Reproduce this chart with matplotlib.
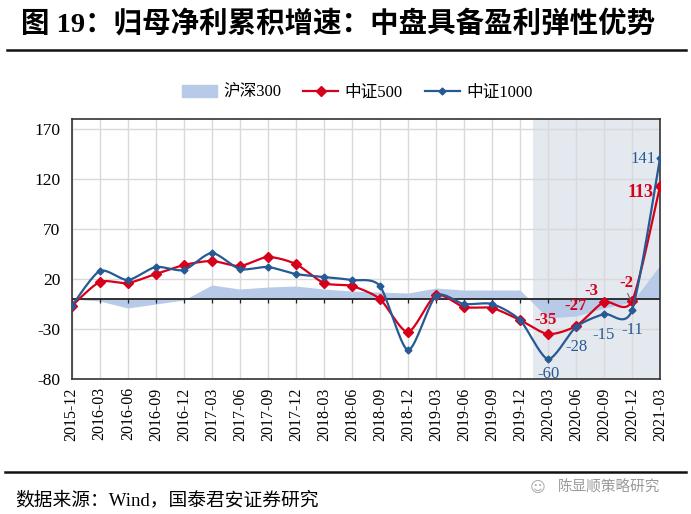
import numpy as np
import matplotlib
matplotlib.use("Agg")
import matplotlib.pyplot as plt
from matplotlib.patches import Patch
from matplotlib.lines import Line2D

plt.rcParams['font.family'] = ['Liberation Serif', 'Noto Sans CJK SC']
plt.rcParams['axes.unicode_minus'] = False

# data
dates = ['2015-12', '2016-03', '2016-06', '2016-09', '2016-12', '2017-03', '2017-06',
         '2017-09', '2017-12', '2018-03', '2018-06', '2018-09', '2018-12', '2019-03',
         '2019-06', '2019-09', '2019-12', '2020-03', '2020-06', '2020-09', '2020-12',
         '2021-03']
hs300 = [0, -2, -9, -5, -1, 14, 10, 12, 13, 10, 8, 7, 6, 11, 9, 9, 9, -19, -17, -9, -3, 34]
zz500 = [-7, 17, 16, 25, 34, 38, 33, 42, 35, 16, 13, 0, -33, 4, -8, -9, -21, -35, -27, -3, -2, 113]
zz1000 = [-7, 28, 19, 32, 29, 46, 30, 32, 25, 22, 19, 13, -51, 3, -5, -5, -21, -60, -28, -15, -11, 141]

# labelled points (index, text)
lab500 = [(17, '-35'), (18, '-27'), (19, '-3'), (20, '-2'), (21, '113')]
lab1000 = [(17, '-60'), (18, '-28'), (19, '-15'), (20, '-11'), (21, '141')]

RED = '#d7001a'
BLUE = '#265a94'
AREA = '#b7cbe9'
SHADE = '#e4e8ef'


def smooth(y, n=20, k=8.0):
    # bezier smoothing between points, like an office "smoothed line"
    y = np.asarray(y, dtype=float)
    x = np.arange(len(y), dtype=float)
    xs, ys = [], []
    for i in range(len(y) - 1):
        x0, y0 = x[i], y[i]
        x3, y3 = x[i + 1], y[i + 1]
        xm, ym = (x[i - 1], y[i - 1]) if i > 0 else (x0, y0)
        xp, yp = (x[i + 2], y[i + 2]) if i + 2 < len(y) else (x3, y3)
        x1, y1 = x0 + (x3 - xm) / k, y0 + (y3 - ym) / k
        x2, y2 = x3 - (xp - x0) / k, y3 - (yp - y0) / k
        t = np.linspace(0, 1, n, endpoint=(i == len(y) - 2))
        xs.append((1-t)**3*x0 + 3*(1-t)**2*t*x1 + 3*(1-t)*t**2*x2 + t**3*x3)
        ys.append((1-t)**3*y0 + 3*(1-t)**2*t*y1 + 3*(1-t)*t**2*y2 + t**3*y3)
    return np.concatenate(xs), np.concatenate(ys)


fig = plt.figure(figsize=(6.91, 5.14), dpi=100)
ax = fig.add_axes([0.1038, 0.2626, 0.8514, 0.5059])

x = np.arange(len(dates))

ax.axvspan(16.45, 21, color=SHADE, zorder=0, lw=0)
ax.fill_between(x, 0, hs300, color=AREA, lw=0, zorder=1)

sx, sy = smooth(zz500)
ax.plot(sx, sy, color=RED, lw=1.6, zorder=3)
ax.plot(x, zz500, ls='none', marker='D', ms=5, color=RED, zorder=3)
sx, sy = smooth(zz1000)
ax.plot(sx, sy, color=BLUE, lw=1.6, zorder=4)
ax.plot(x, zz1000, ls='none', marker='D', ms=3.5, color=BLUE, zorder=4)

ax.axhline(0, color='#222222', lw=1.3, zorder=2)
ax.vlines(x, -4, 0, color='#222222', lw=0.9, zorder=2)

ax.set_xlim(0, 21)
ax.set_ylim(-80, 180)
ax.set_yticks([-80, -30, 20, 70, 120, 170])
ax.set_xticks(x)
ax.set_xticklabels(dates, rotation=90, fontsize=11.5)
ax.tick_params(axis='y', labelsize=12.5, length=0, pad=8)
ax.tick_params(axis='x', length=0, pad=6)
ax.grid(True, color='#d9d9d9', lw=1.0, zorder=0)
ax.set_axisbelow(True)
for s in ax.spines.values():
    s.set_color('#333333')
    s.set_linewidth(1.2)

# point labels
off500 = {17: (-0.07, 13.6), 18: (-0.03, 19.6), 19: (-0.44, 11.3), 20: (-0.19, 18), 21: (-0.69, -6.4)}
off1000 = {17: (0.02, -14.7), 18: (0.03, -20.4), 19: (0.0, -21), 20: (0.0, -20.4), 21: (-0.61, -1)}
for i, t in lab500:
    dx, dy = off500[i]
    ax.text(i + dx, zz500[i] + dy, t, color=RED, fontsize=13 if i == 21 else 12,
            fontweight='bold', ha='center', va='center', zorder=5)
for i, t in lab1000:
    dx, dy = off1000[i]
    ax.text(i + dx, zz1000[i] + dy, t, color=BLUE, fontsize=12,
            ha='center', va='center', zorder=5)
ax.annotate('', xy=(20, zz500[20] - 2), xytext=(19.8, zz500[20] + 10),
            arrowprops=dict(arrowstyle='-', color='#666666', lw=0.8), zorder=5)

# legend
handles = [Patch(color=AREA, label='沪深300'),
           Line2D([], [], color=RED, marker='D', ms=5, lw=1.6, label='中证500'),
           Line2D([], [], color=BLUE, marker='D', ms=3.5, lw=1.6, label='中证1000')]
fig.legend(handles=handles, loc='center', bbox_to_anchor=(0.517, 0.82), ncol=3,
           frameon=False, handlelength=2.1, handletextpad=0.4, columnspacing=1.3,
           prop={'family': ['Liberation Serif', 'Noto Sans CJK SC'], 'size': 12})

# title, rules, source
fig.text(0.03, 0.955, '图 19：归母净利累积增速：中盘具备盈利弹性优势', fontsize=20.5,
         fontweight='bold', va='center', family=['Liberation Serif', 'Noto Sans CJK SC'])
fig.add_artist(Line2D([0.01, 0.993], [0.903, 0.903], color='#111111', lw=1.8))
fig.add_artist(Line2D([0.007, 0.993], [0.082, 0.082], color='#111111', lw=1.8))
fig.text(0.022, 0.027, '数据来源：Wind，国泰君安证券研究', fontsize=13.5, va='center',
         family=['Liberation Serif', 'Noto Sans CJK SC'])
fig.text(0.955, 0.052, '陈显顺策略研究', fontsize=10.5, va='center', ha='right',
         color='#999999', family=['Noto Sans CJK SC'])
fig.text(0.79, 0.052, '☺', fontsize=11, va='center', ha='right', color='#aaaaaa',
         family=['DejaVu Sans'])

fig.savefig('out.png', dpi=100)
